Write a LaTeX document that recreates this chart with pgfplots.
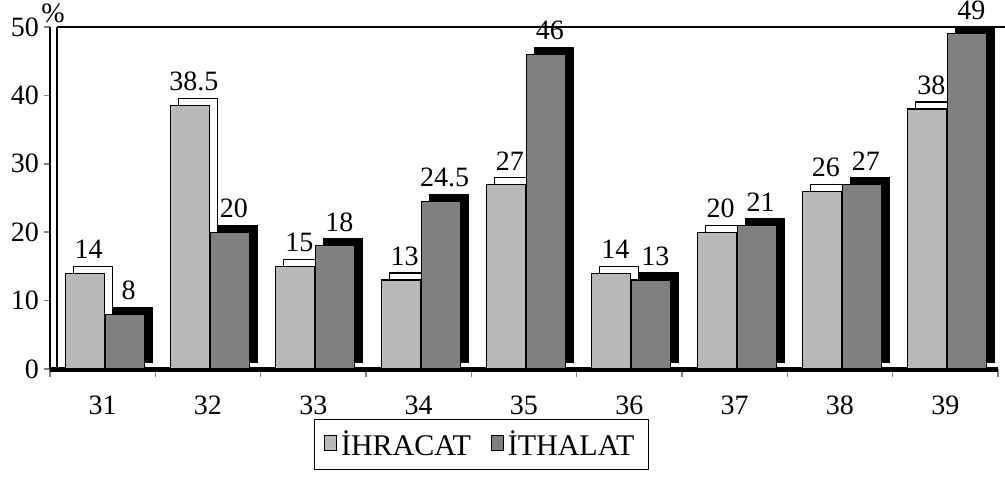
\documentclass[border=0pt]{standalone}
\usepackage{fontspec}
\setmainfont{Liberation Serif}
\usepackage{pgfplots}
\pgfplotsset{compat=1.18}
\definecolor{ihr}{RGB}{185,185,185}
\definecolor{ith}{RGB}{128,128,128}
\begin{document}
\begin{tikzpicture}
\begin{axis}[
  scale only axis, width=474pt, height=171pt,
  xmin=0.5, xmax=9.5, ymin=0, ymax=50,
  clip=false,
  axis x line*=bottom, axis y line*=left,
  x axis line style={line width=2.5pt},
  y axis line style={line width=0.8pt},
  ytick={0,10,...,50},
  xtick={1,...,9}, xticklabels={31,32,33,34,35,36,37,38,39},
  minor xtick={0.5,1.5,...,9.5},
  major x tick style={draw=none},
  minor x tick style={line width=0.8pt},
  minor tick length=4pt,
  y tick style={line width=0.8pt},
  tick align=outside,
  major tick length=3pt,
  /pgf/number format/assume math mode=true,
  ticklabel style={font=\fontsize{14}{16}\selectfont},
  xticklabel style={yshift=-7pt},
  yticklabel style={xshift=1pt},
  legend columns=2,
  legend style={at={(axis description cs:0.455,-0.22)}, anchor=center,
    draw=black, line width=0.6pt, font=\fontsize{15}{17}\selectfont,
    /tikz/every even column/.append style={column sep=8pt},
    inner xsep=5pt, inner ysep=3.5pt},
  legend image code/.code={\filldraw[#1, draw=black, line width=0.4pt] (0pt,-3pt) rectangle (6pt,4.5pt);},
]
\coordinate (bl) at (rel axis cs:0,0);
% depth (3D side/top) of the bars
\addplot[ybar, bar width=19.5pt, bar shift=-9pt, fill=white, draw=black, line width=0.6pt, xshift=4pt, yshift=3.5pt, forget plot]
  coordinates {(1,14) (2,38.5) (3,15) (4,13) (5,27) (6,14) (7,20) (8,26) (9,38)};
\addplot[ybar, bar width=19.5pt, bar shift=11pt, fill=black, draw=black, line width=0.6pt, xshift=4pt, yshift=3.5pt, forget plot]
  coordinates {(1,8) (2,20) (3,18) (4,24.5) (5,46) (6,13) (7,21) (8,27) (9,49)};
% front faces
\addplot[ybar, bar width=19.5pt, bar shift=-9pt, fill=ihr, draw=black, line width=0.6pt,
  nodes near coords, point meta=explicit symbolic,
  every node near coord/.append style={font=\fontsize{14}{16}\selectfont, xshift=-7pt, yshift=3.5pt}]
  coordinates {(1,14)[14] (2,38.5)[38.5] (3,15)[15] (4,13)[13] (5,27)[27] (6,14)[14] (7,20)[20] (8,26)[26] (9,38)[38]};
\addlegendentry{İHRACAT}
\addplot[ybar, bar width=19.5pt, bar shift=11pt, fill=ith, draw=black, line width=0.6pt,
  nodes near coords, point meta=explicit symbolic,
  every node near coord/.append style={font=\fontsize{14}{16}\selectfont, xshift=13pt, yshift=3.5pt}]
  coordinates {(1,8)[8] (2,20)[20] (3,18)[18] (4,24.5)[24.5] (5,46)[46] (6,13)[13] (7,21)[21] (8,27)[27] (9,49)[49]};
\addlegendentry{İTHALAT}
\draw[line width=0.8pt] ([xshift=3.5pt]rel axis cs:0,1) -- (rel axis cs:1.007,1);
\draw[line width=0.8pt] ([xshift=3.5pt]rel axis cs:0,0) -- ([xshift=3.5pt]rel axis cs:0,1);
\node[font=\fontsize{14}{16}\selectfont] at ([xshift=1.5pt,yshift=7pt]rel axis cs:0,1) {\%};
\end{axis}
\pgfresetboundingbox
\path ([shift={(-25pt,-53.5pt)}]bl) rectangle ([shift={(477.5pt,184.5pt)}]bl);
\end{tikzpicture}
\end{document}
